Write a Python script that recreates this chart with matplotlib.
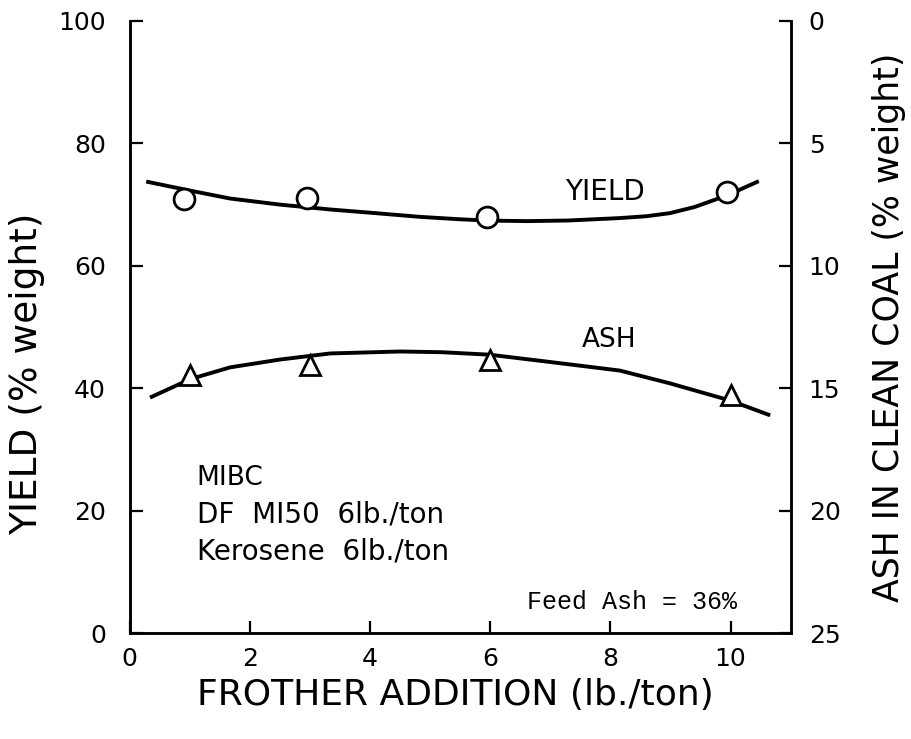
import matplotlib
matplotlib.use("Agg")
import matplotlib.pyplot as plt

# ---- data ----
frother_pts = [0.9, 2.96, 5.94, 9.94]
yield_pts = [70.9, 71.1, 67.9, 72.0]

ash_x_pts = [1.0, 3.0, 6.0, 10.0]
ash_pts = [14.47, 14.05, 13.85, 15.28]          # % ash (right axis)

yield_curve_x = [0.31, 1.0, 1.67, 2.5, 3.34, 4.1, 4.83, 5.5, 5.94, 6.6, 7.3,
                 8.16, 8.6, 8.99, 9.4, 9.77, 10.1, 10.44]
yield_curve_y = [73.7, 72.3, 71.0, 70.0, 69.2, 68.6, 68.0, 67.6, 67.4, 67.3,
                 67.4, 67.8, 68.1, 68.6, 69.6, 70.9, 72.2, 73.7]

ash_curve_x = [0.37, 1.01, 1.67, 2.5, 3.34, 4.5, 5.2, 5.99, 7.0, 8.16, 8.99,
               9.99, 10.63]
ash_curve_y = [15.35, 14.63, 14.15, 13.83, 13.58, 13.5, 13.53, 13.63, 13.93,
               14.28, 14.8, 15.5, 16.08]

x_ticks = [0, 2, 4, 6, 8, 10]
yield_ticks = [0, 20, 40, 60, 80, 100]
ash_ticks = [0, 5, 10, 15, 20, 25]

plt.rcParams['font.family'] = ['DejaVu Sans']

fig = plt.figure(figsize=(9.12, 7.39), dpi=100)
ax = fig.add_axes([0.142, 0.1434, 0.7249, 0.8282])
ax2 = ax.twinx()

lw = 2.8
ax.plot(yield_curve_x, yield_curve_y, color='black', lw=lw, zorder=2)
ax.plot(frother_pts, yield_pts, linestyle='none', marker='o', ms=15,
        mfc='white', mec='black', mew=2.0, zorder=3)

ax2.plot(ash_curve_x, ash_curve_y, color='black', lw=lw, zorder=2)
ax2.plot(ash_x_pts, ash_pts, linestyle='none', marker='^', ms=14,
         mfc='white', mec='black', mew=2.0, zorder=3)

ax.set_xlim(0, 11)
ax.set_ylim(0, 100)
ax2.set_ylim(25, 0)

ax.set_xticks(x_ticks)
ax.set_yticks(yield_ticks)
ax2.set_yticks(ash_ticks)

for a in (ax, ax2):
    for s in a.spines.values():
        s.set_linewidth(1.8)
ax.spines['top'].set_visible(False)
ax2.spines['top'].set_visible(False)

ax.tick_params(axis='both', direction='in', length=9, width=1.6,
               labelsize=18, top=False)
ax.tick_params(axis='y', pad=17)
ax.tick_params(axis='x', pad=10)
ax2.tick_params(axis='y', direction='in', length=9, width=1.6,
                labelsize=18, pad=13)

ax.set_xlabel('FROTHER ADDITION (lb./ton)', fontsize=26)
ax.set_ylabel('YIELD (% weight)', fontsize=27)
ax2.set_ylabel('ASH IN CLEAN COAL (% weight)', fontsize=25, rotation=90)
ax.xaxis.set_label_coords(0.4925, -0.073)
ax.yaxis.set_label_coords(-0.127, 0.423)
ax2.yaxis.set_label_coords(1.123, 0.50)

ax.text(7.25, 72.0, 'YIELD', fontsize=20, ha='left', va='center')
ax.text(7.52, 47.8, 'ASH', fontsize=19, ha='left', va='center')

ax.text(1.12, 25.3, 'MIBC', fontsize=19, ha='left', va='center')
ax.text(1.12, 19.3, 'DF  MI50  6lb./ton', fontsize=20, ha='left', va='center')
ax.text(1.12, 13.4, 'Kerosene  6lb./ton', fontsize=20, ha='left', va='center')
ax.text(6.61, 5.1, 'Feed Ash = 36%', fontsize=18, ha='left', va='center',
        family=['Liberation Mono', 'DejaVu Sans Mono'])

fig.savefig('out.png', dpi=100)
